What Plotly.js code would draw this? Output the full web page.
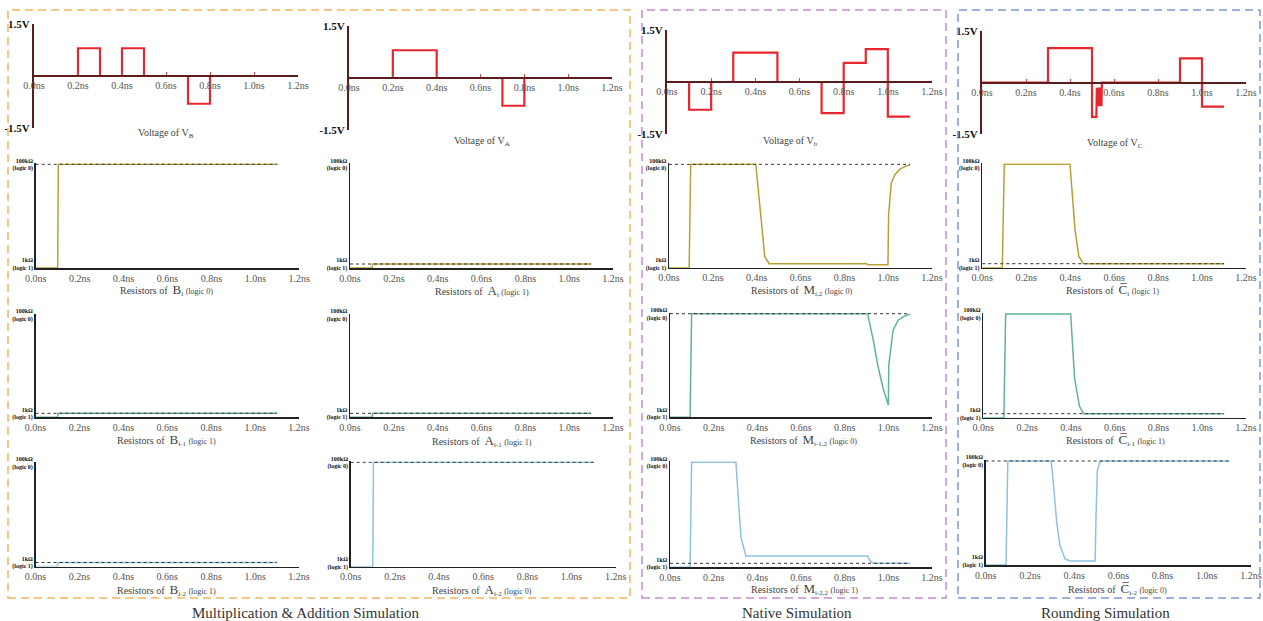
<!DOCTYPE html>
<html><head><meta charset="utf-8">
<script src="https://cdn.plot.ly/plotly-3.0.1.min.js"></script>
<style>html,body{margin:0;padding:0;background:#fff}#chart{width:1263px;height:621px}</style>
</head><body><div id="chart"></div>
<script>
// ---------- data ----------
const timeTicks = [0, 0.2, 0.4, 0.6, 0.8, 1.0, 1.2];
const timeTickLabels = ['0.0ns', '0.2ns', '0.4ns', '0.6ns', '0.8ns', '1.0ns', '1.2ns'];
const voltTicks = [-1.5, 1.5];
const voltTickLabels = ['-1.5V', '1.5V'];
const resTicks = [1000, 100000];
const resTickLabels = ['1kΩ<br>(logic 1)', '100kΩ<br>(logic 0)'];
const refT = [0, 1.1];
const R_LOGIC1 = 1000, R_LOGIC0 = 100000;

// voltages (V) vs time (ns)
const tVB = [0, 0.2, 0.2, 0.3, 0.3, 0.4, 0.4, 0.5, 0.5, 0.7, 0.7, 0.8, 0.8, 1.1];
const vVB = [0, 0, 0.8, 0.8, 0, 0, 0.8, 0.8, 0, 0, -0.8, -0.8, 0, 0];
const tVA = [0, 0.2, 0.2, 0.4, 0.4, 0.7, 0.7, 0.8, 0.8, 1.1];
const vVA = [0, 0, 0.8, 0.8, 0, 0, -0.8, -0.8, 0, 0];
const tVb = [0, 0.1, 0.1, 0.2, 0.2, 0.3, 0.3, 0.5, 0.5, 0.7, 0.7, 0.8, 0.8, 0.9, 0.9, 1.0, 1.0, 1.1];
const vVb = [0, 0, -0.8, -0.8, 0, 0, 0.85, 0.85, 0, 0, -0.9, -0.9, 0.55, 0.55, 0.95, 0.95, -1.0, -1.0];
const tVC = [0, 0.3, 0.3, 0.5, 0.5, 0.52, 0.522, 0.525, 0.528, 0.531, 0.534, 0.537, 0.54, 0.543, 0.545, 0.9, 0.9, 1.0, 1.0, 1.1];
const vVC = [0, 0, 1.0, 1.0, -1.0, -1.0, -0.15, -0.69, -0.15, -0.69, -0.15, -0.69, -0.15, -0.69, 0, 0, 0.7, 0.7, -0.7, -0.7];

// resistances (ohm) vs time (ns)
const tBi = [0, 0.1, 0.103, 1.1];
const rBi = [832, 832, 100000, 100000];
const tAi = [0, 0.1, 0.103, 1.1];
const rAi = [832, 832, 1000, 1000];
const tM2 = [0, 0.092, 0.099, 0.396, 0.437, 0.457, 0.9, 0.908, 0.999, 1.002, 1.014, 1.03, 1.052, 1.083, 1.1];
const rM2 = [832, 832, 100000, 100000, 1380, 1000, 1000, 955, 955, 9700, 41700, 61000, 79000, 92700, 97000];
const tCi = [0, 0.091, 0.1, 0.399, 0.422, 0.439, 0.46, 1.1];
const rCi = [832, 832, 100000, 100000, 4860, 1420, 1000, 1000];

const tBi1 = [0, 0.1, 0.103, 1.1];
const rBi1 = [832, 832, 1000, 1000];
const tAi1 = [0, 0.1, 0.103, 1.1];
const rAi1 = [832, 832, 1000, 1000];
const tM12 = [0, 0.092, 0.099, 0.905, 0.931, 0.953, 0.976, 1.0, 1.002, 1.022, 1.045, 1.076, 1.1];
const rM12 = [832, 832, 100000, 100000, 29600, 8600, 3180, 1470, 9300, 47000, 74000, 90000, 98000];
const tCi1 = [0, 0.094, 0.102, 0.399, 0.417, 0.439, 0.458, 1.1];
const rCi1 = [832, 832, 100000, 100000, 5200, 1420, 1000, 1000];

const tBi2 = [0, 0.1, 0.103, 1.1];
const rBi2 = [832, 832, 1000, 1000];
const tAi2 = [0, 0.1, 0.103, 1.1];
const rAi2 = [832, 832, 100000, 100000];
const tM22 = [0, 0.092, 0.099, 0.302, 0.325, 0.348, 0.905, 0.915, 0.93, 1.1];
const rM22 = [832, 832, 100000, 100000, 3200, 1390, 1390, 1150, 1000, 1000];
const tCi2 = [0, 0.092, 0.1, 0.296, 0.306, 0.321, 0.336, 0.359, 0.382, 0.495, 0.499, 0.505, 0.517, 0.532, 1.1];
const rCi2 = [832, 832, 100000, 100000, 36000, 5900, 2040, 1100, 1000, 1000, 7900, 66000, 97000, 100000, 100000];

const groupLabels = ['Multiplication &amp; Addition Simulation', 'Native Simulation', 'Rounding Simulation'];

// ---------- styling / layout ----------
const W = 1263, H = 621;
const FONT = 'Liberation Serif, Times New Roman, serif';
const RED = '#e8262d', OLIVE = '#b8a034', TEAL = '#5fb397', LBLUE = '#8cc3e2';

function resTitle(letter, sub, logic) {
  return 'Resistors of  <span style="font-size:13px">' + letter + '</span><sub>' + sub + '</sub> <span style="font-size:8px">(logic ' + logic + ')</span>';
}
const CB = 'C\u0305';

const panels = [
  {k:'v', box:[34,298,24,128], t:tVB, y:vVB, c:RED, title:'Voltage of V<sub>B</sub>', tp:[166,134]},
  {k:'v', box:[349,612,26,130], t:tVA, y:vVA, c:RED, title:'Voltage of V<sub>A</sub>', tp:[482,141]},
  {k:'v', box:[667,932,30,134], t:tVb, y:vVb, c:RED, title:'Voltage of V<sub>b</sub>', tp:[790,141]},
  {k:'v', box:[982,1246,31,134], t:tVC, y:vVC, c:RED, title:'Voltage of V<sub>C</sub>', tp:[1115,143]},

  {k:'r', box:[35.7,299.3,164.3,268], t:tBi, y:rBi, c:OLIVE, ref:R_LOGIC0, title:resTitle('B','i','0'), tp:[166,290]},
  {k:'r', box:[350,613,164.3,268], t:tAi, y:rAi, c:OLIVE, ref:R_LOGIC1, title:resTitle('A','i','1'), tp:[482,291]},
  {k:'r', box:[669,932,164.3,267.7], t:tM2, y:rM2, c:OLIVE, ref:R_LOGIC0, title:resTitle('M','i,2','0'), tp:[801,290]},
  {k:'r', box:[982.3,1246,164.3,267.7], t:tCi, y:rCi, c:OLIVE, ref:R_LOGIC1, title:resTitle(CB,'i','1'), tp:[1112,290]},

  {k:'r', box:[35.5,299,315,417.3], t:tBi1, y:rBi1, c:TEAL, ref:R_LOGIC1, title:resTitle('B','i-1','1'), tp:[167,440]},
  {k:'r', box:[350,613,315,417.3], t:tAi1, y:rAi1, c:TEAL, ref:R_LOGIC1, title:resTitle('A','i-1','1'), tp:[482,441]},
  {k:'r', box:[670,932,313.7,417.3], t:tM12, y:rM12, c:TEAL, ref:R_LOGIC0, title:resTitle('M','i-1,2','0'), tp:[803,440]},
  {k:'r', box:[983.3,1246,314,417.7], t:tCi1, y:rCi1, c:TEAL, ref:R_LOGIC1, title:resTitle(CB,'i-1','1'), tp:[1115,440]},

  {k:'r', box:[35.5,299,463,566.5], t:tBi2, y:rBi2, c:LBLUE, ref:R_LOGIC1, title:resTitle('B','i-2','1'), tp:[167,590]},
  {k:'r', box:[350.7,615.7,462.3,566.7], t:tAi2, y:rAi2, c:LBLUE, ref:R_LOGIC0, title:resTitle('A','i-2','0'), tp:[482,590]},
  {k:'r', box:[670,932,462.3,567.3], t:tM22, y:rM22, c:LBLUE, ref:R_LOGIC1, title:resTitle('M','i-2,2','1'), tp:[804,589]},
  {k:'r', box:[985.7,1251,461,565], t:tCi2, y:rCi2, c:LBLUE, ref:R_LOGIC0, title:resTitle(CB,'i-2','0'), tp:[1117,589]},
];

const traces = [];
const layout = {
  width: W, height: H,
  margin: {l:0, r:0, t:0, b:0},
  paper_bgcolor: '#fff', plot_bgcolor: 'rgba(0,0,0,0)',
  showlegend: false,
  font: {family: FONT, color: '#444'},
  annotations: [], shapes: []
};

panels.forEach((p, i) => {
  const n = i + 1;
  const xa = n === 1 ? 'x' : 'x' + n, ya = n === 1 ? 'y' : 'y' + n;
  const xk = n === 1 ? 'xaxis' : 'xaxis' + n, yk = n === 1 ? 'yaxis' : 'yaxis' + n;
  const [x0, x1, yT, yB] = p.box;
  traces.push({x: p.t, y: p.y, xaxis: xa, yaxis: ya, type: 'scatter', mode: 'lines',
    line: {color: p.c, width: p.k === 'v' ? 2.2 : 1.5}, hoverinfo: 'skip'});
  if (p.k === 'v') {
    layout[xk] = {domain: [x0 / W, x1 / W], range: [0, 1.2], anchor: 'free',
      position: 1 - ((yT + yB) / 2) / H,
      showline: true, linecolor: '#5c1c1c', linewidth: 2, showgrid: false, zeroline: false,
      tickvals: timeTicks, ticktext: timeTickLabels, ticks: 'inside', ticklen: 3, tickwidth: 1,
      tickcolor: '#e04040', tickfont: {family: FONT, size: 10, color: '#555'}, fixedrange: true};
    layout[yk] = {domain: [1 - yB / H, 1 - yT / H], range: [-1.5, 1.5], anchor: xa,
      showline: true, linecolor: '#5c1c1c', linewidth: 2, showgrid: false, zeroline: false,
      tickvals: voltTicks, ticktext: voltTickLabels, ticks: '',
      tickfont: {family: FONT, size: 11, color: '#111', weight: 'bold'}, fixedrange: true};
  } else {
    const pp = 2 / (yB - 4 - yT);
    layout[xk] = {domain: [x0 / W, x1 / W], range: [0, 1.2], anchor: ya,
      showline: true, linecolor: '#222', linewidth: 1.5, showgrid: false, zeroline: false,
      tickvals: timeTicks, ticktext: timeTickLabels, ticks: '',
      tickfont: {family: FONT, size: 10, color: '#555'}, fixedrange: true};
    layout[yk] = {type: 'log', domain: [1 - yB / H, 1 - (yT - 1) / H], range: [3 - 4 * pp, 5 + pp],
      anchor: xa, showline: true, linecolor: '#222', linewidth: 1.5, showgrid: false, zeroline: false,
      tickvals: resTicks, ticktext: resTickLabels, ticks: '',
      tickfont: {family: FONT, size: 6, color: '#111', weight: 'bold'}, fixedrange: true};
    traces.push({x: refT, y: [p.ref, p.ref], xaxis: xa, yaxis: ya, type: 'scatter', mode: 'lines',
      line: {color: '#333', width: 1, dash: 'dot'}, hoverinfo: 'skip'});
  }
  layout.annotations.push({text: p.title, x: p.tp[0] / W, y: 1 - p.tp[1] / H, xref: 'paper', yref: 'paper',
    xanchor: 'center', yanchor: 'middle', showarrow: false, font: {family: FONT, size: 10, color: '#444'}});
});

// group frames
const frames = [
  {x0: 8, x1: 630, c: '#f6b45e'},
  {x0: 642, x1: 946, c: '#c88bd1'},
  {x0: 958, x1: 1260, c: '#7d98d4'}
];
frames.forEach(f => layout.shapes.push({type: 'rect', xref: 'paper', yref: 'paper',
  x0: f.x0 / W, x1: f.x1 / W, y0: 1 - 598 / H, y1: 1 - 10 / H,
  line: {color: f.c, width: 1.5, dash: '8px,5px'}, fillcolor: 'rgba(0,0,0,0)'}));

const groupX = [306, 797, 1105];
groupLabels.forEach((g, i) => layout.annotations.push({text: g, x: groupX[i] / W, y: 1 - 613 / H,
  xref: 'paper', yref: 'paper', xanchor: 'center', yanchor: 'middle', showarrow: false,
  font: {family: FONT, size: 15, color: '#333'}}));

Plotly.newPlot('chart', traces, layout, {displayModeBar: false, staticPlot: true});
</script></body></html>
